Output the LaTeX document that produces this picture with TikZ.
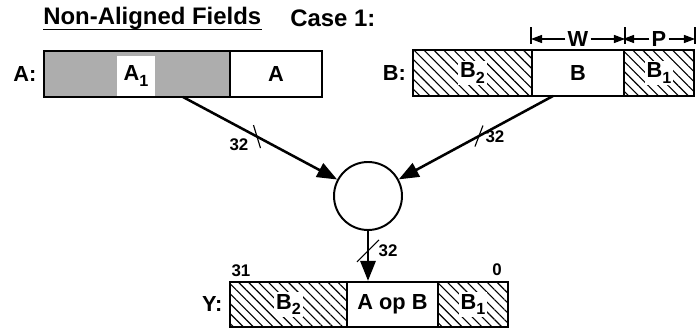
\documentclass[tikz,border=0pt]{standalone}
\usepackage{fontspec}
\setmainfont{Liberation Sans}
\usepackage{tikz}
\usetikzlibrary{arrows.meta}
\usetikzlibrary{patterns.meta}
\usetikzlibrary{calc}
\usetikzlibrary{positioning}
\definecolor{stipple}{gray}{0.68}
\newcommand{\fieldsub}[1]{\raisebox{-0.45ex}{\fontsize{11.5}{13}\selectfont #1}}

\tikzset{
  field/.style={draw, line width=1.6pt, inner sep=0pt, minimum height=46*0.25mm},
  hatched/.style={pattern={Lines[angle=-45,distance=5pt,line width=0.8pt]}},
  lbl/.style={font=\fontsize{15.5}{17}\selectfont\bfseries, inner sep=1.5pt},
  head/.style={font=\fontsize{17}{19}\selectfont\bfseries, inner sep=1.5pt},
  num/.style={font=\fontsize{12}{13}\selectfont\bfseries, inner sep=1pt},
  bus/.style={line width=1.8pt, -{Triangle[length=5mm,width=3.8mm]}},
  slash/.style={line width=0.8pt},
}

\begin{document}
\begin{tikzpicture}[x=0.25mm, y=-0.25mm, >={Triangle[length=2.8mm,width=2mm]}]
  \useasboundingbox (0,0) rectangle (696,332);

  % title
  \node[head, anchor=west] (title) at (41,18) {Non-Aligned Fields};
  \draw[line width=1.3pt] ($(title.south west)+(2,-2)$) -- ($(title.south east)+(-2,-2)$);
  \node[head, anchor=west] (case) at (288,18) {Case 1:};

  % register A
  \node[field, fill=stipple, minimum width=186*0.25mm] (fa1) at (137,74) {};
  \node[field, fill=white, minimum width=92*0.25mm] (fa) at (276,74) {};
  \node[lbl, fill=white, minimum width=38*0.25mm, minimum height=40*0.25mm] (la1) at (136,76) {A\fieldsub{1}};
  \node[lbl] (la) at (fa) {A};
  \node[lbl, left=3pt of fa1] (ra) {A:};

  % register B
  \node[field, hatched, minimum width=119*0.25mm] (fb2) at (472.5,73) {};
  \node[field, fill=white, minimum width=92*0.25mm] (fb) at (578,73) {};
  \node[field, hatched, minimum width=70*0.25mm] (fb1) at (659,73) {};
  \node[lbl, fill=white] (lb2) at (fb2) {B\fieldsub{2}};
  \node[lbl] (lb) at (fb) {B};
  \node[lbl, fill=white] (lb1) at (fb1) {B\fieldsub{1}};
  \node[lbl, left=3pt of fb2] (rb) {B:};

  % widths W and P
  \draw[line width=1pt] ($(fb.north west)+(0,-5)$) -- ++(0,-17);
  \draw[line width=1pt] ($(fb.north east)+(0,-5)$) -- ++(0,-17);
  \draw[line width=1pt] ($(fb1.north east)+(0,-5)$) -- ++(0,-17);
  \node[lbl] (w) at (578,39) {W};
  \node[lbl] (p) at (659,39) {P};
  \draw[->, line width=1pt] (w.west) -- (fb.west |- w.west);
  \draw[->, line width=1pt] (w.east) -- (fb.east |- w.east);
  \draw[->, line width=1pt] (p.west) -- (fb1.west |- p.west);
  \draw[->, line width=1pt] (p.east) -- (fb1.east |- p.east);

  % operator
  \node[draw, circle, line width=1.4pt, minimum size=68*0.25mm, inner sep=0pt] (op) at (368,196) {};

  \coordinate (aout) at (183,97);
  \coordinate (bout) at (553,96);
  \draw[bus] (aout) -- coordinate[pos=0.48] (ta) (op);
  \draw[bus] (bout) -- coordinate[pos=0.48] (tb) (op);

  \draw[slash] ($(ta)+(-3.5,-11.5)$) -- ($(ta)+(3.5,11.5)$);
  \node[num] at ($(ta)+(-18,8)$) {32};
  \draw[slash] ($(tb)+(4,-10.5)$) -- ($(tb)+(-4,10.5)$);
  \node[num] at ($(tb)+(16,1)$) {32};

  % register Y
  \node[field, hatched, minimum width=117*0.25mm, minimum height=45*0.25mm] (fyb2) at (288.5,304.5) {};
  \node[field, fill=white, minimum width=91*0.25mm, minimum height=45*0.25mm] (fyc) at (392.5,304.5) {};
  \node[field, hatched, minimum width=70*0.25mm, minimum height=45*0.25mm] (fyb1) at (473,304.5) {};
  \node[lbl, fill=white] (lyb2) at (fyb2) {B\fieldsub{2}};
  \node[lbl] (lyc) at (fyc) {A op B};
  \node[lbl, fill=white] (lyb1) at (fyb1) {B\fieldsub{1}};
  \node[lbl, left=3pt of fyb2] (ry) {Y:};
  \node[num] (msb) at (241,271) {31};
  \node[num] (lsb) at (497,270) {0};

  \draw[bus] (op.south) -- coordinate[pos=0.4] (ty) (op.south |- fyc.north);
  \draw[slash] ($(ty)+(-11,11)$) -- ($(ty)+(11,-11)$);
  \node[num] at ($(ty)+(20,0)$) {32};
\end{tikzpicture}
\end{document}
